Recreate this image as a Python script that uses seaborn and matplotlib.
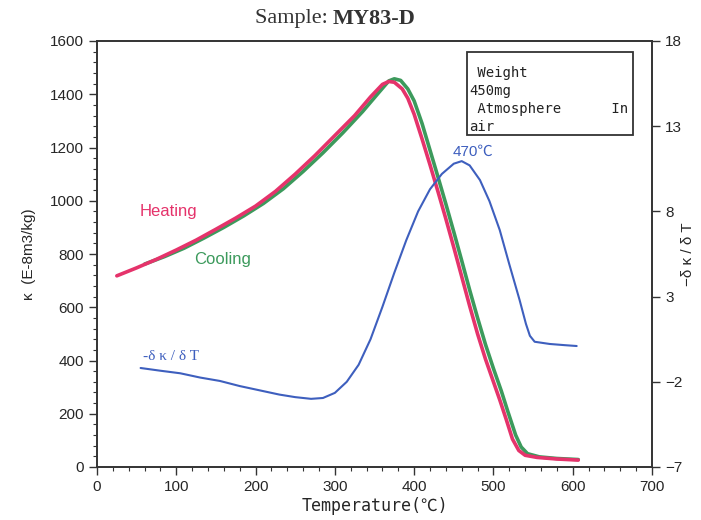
import matplotlib
matplotlib.use("Agg")
import matplotlib.pyplot as plt
import seaborn as sns
import pandas as pd
from matplotlib.ticker import MultipleLocator

# ---- data ----
heat_T = [25, 50, 75, 100, 125, 150, 175, 200, 225, 250, 275, 300, 325, 345, 360, 368, 375, 385, 392,
          400, 410, 420, 430, 440, 450, 460, 470, 480, 490, 500, 508, 516, 524, 532, 540, 555, 580, 607]
heat_k = [718, 748, 780, 815, 852, 893, 935, 980, 1035, 1100, 1170, 1245, 1320, 1390, 1437, 1448, 1445,
          1420, 1385, 1325, 1232, 1135, 1035, 932, 825, 715, 605, 500, 405, 320, 252, 180, 105, 62, 44,
          36, 30, 26]

cool_T = [60, 85, 110, 135, 160, 185, 210, 235, 260, 285, 310, 335, 355, 368, 375, 383, 392, 400, 410,
          420, 430, 440, 450, 460, 470, 480, 490, 500, 510, 518, 528, 535, 543, 558, 580, 607]
cool_k = [762, 790, 822, 860, 900, 943, 990, 1045, 1110, 1180, 1255, 1335, 1405, 1450, 1458, 1452, 1420,
          1375, 1290, 1190, 1090, 988, 883, 775, 665, 560, 460, 370, 285, 210, 120, 75, 50, 38, 32, 28]

dk_T = [55, 80, 105, 130, 155, 180, 205, 230, 250, 270, 285, 300, 315, 330, 345, 360, 375, 390, 405,
        420, 435, 450, 460, 470, 483, 495, 508, 520, 533, 541, 546, 552, 571, 590, 605]
dk_v = [-1.19, -1.35, -1.5, -1.75, -1.95, -2.25, -2.5, -2.75, -2.9, -3.0, -2.95, -2.65, -2.0, -1.0,
        0.5, 2.4, 4.4, 6.3, 8.0, 9.3, 10.2, 10.8, 10.95, 10.7, 9.84, 8.6, 6.9, 4.9, 2.8, 1.4, 0.7, 0.35,
        0.22, 0.15, 0.1]

x_ticks = [0, 100, 200, 300, 400, 500, 600, 700]
y_ticks = [0, 200, 400, 600, 800, 1000, 1200, 1400, 1600]
y2_ticks = [-7, -2, 3, 8, 13, 18]

PINK = "#E5336B"
GREEN = "#3C9A5C"
BLUE = "#3E5FBE"

sns.set_style("white")
plt.rcParams['font.family'] = ['Liberation Sans', 'DejaVu Sans']

fig = plt.figure(figsize=(7.01, 5.20), dpi=100)
ax = fig.add_axes([97/701, 1-467/520, (652-97)/701, (467-41)/520])

df_h = pd.DataFrame({"T": heat_T, "k": heat_k})
df_c = pd.DataFrame({"T": cool_T, "k": cool_k})
df_d = pd.DataFrame({"T": dk_T, "v": dk_v})

sns.lineplot(data=df_c, x="T", y="k", ax=ax, color=GREEN, lw=2.6)
sns.lineplot(data=df_h, x="T", y="k", ax=ax, color=PINK, lw=2.6)

ax.set_xlim(0, 700)
ax.set_ylim(0, 1600)
ax.set_xticks(x_ticks)
ax.set_yticks(y_ticks)
ax.xaxis.set_minor_locator(MultipleLocator(20))
ax.yaxis.set_minor_locator(MultipleLocator(40))
ax.tick_params(which='both', left=True, bottom=True)
ax.tick_params(which='major', direction='out', length=6, width=1, labelsize=11, color='#333333')
ax.tick_params(which='minor', direction='out', length=3, width=0.8, color='#333333')
for s in ax.spines.values():
    s.set_color('#333333')
    s.set_linewidth(1.2)

ax.set_xlabel("Temperature(℃)", fontsize=12, family=['DejaVu Sans Mono', 'Noto Sans CJK JP'], labelpad=2)
ax.set_ylabel("κ  (E-8m3/kg)", fontsize=11, labelpad=10)

ax2 = ax.twinx()
sns.lineplot(data=df_d, x="T", y="v", ax=ax2, color=BLUE, lw=1.5)
ax2.set_ylim(-7, 18)
ax2.set_yticks(y2_ticks)
ax2.tick_params(which='major', direction='out', length=6, width=1, labelsize=11, color='#333333', right=True)
ax2.set_ylabel("−δ κ / δ T", fontsize=11, rotation=90, va='center')
ax2.yaxis.set_label_coords(1.065, 0.5)
ax2.set_xlabel("")
for s in ax2.spines.values():
    s.set_color('#333333')
    s.set_linewidth(1.2)

ax.text(54, 958, "Heating", color=PINK, fontsize=12, ha='left', va='center')
ax.text(122, 778, "Cooling", color=GREEN, fontsize=12, ha='left', va='center')
ax2.text(448, 11.5, "470℃", color=BLUE, fontsize=11, ha='left', va='center',
         family=['Liberation Sans', 'Noto Sans CJK JP'])
ax2.text(58, -0.5, "-δ κ / δ T", color=BLUE, fontsize=11, ha='left', va='center',
         family=['Liberation Serif', 'DejaVu Serif'])

fig.text(0.475, 1-19/520, "Sample: ", fontsize=16, family=['Liberation Serif'], ha='right', va='center', color='#333333')
fig.text(0.475, 1-19/520, "MY83-D", fontsize=16, family=['Liberation Serif'], weight='bold', ha='left', va='center', color='#333333')

# info box
fig.patches.append(plt.Rectangle((467/701, 1-135/520), (633-467)/701, (135-52)/520,
                                 transform=fig.transFigure, fill=False, ec='#333333', lw=1.3))
box_txt = " Weight\n450mg\n Atmosphere      In\nair"
fig.text(469/701, 1-100/520, box_txt, fontsize=10, family=['DejaVu Sans Mono'], ha='left', va='center',
         linespacing=1.35, color='#222222')

fig.savefig("out.png", dpi=100)
